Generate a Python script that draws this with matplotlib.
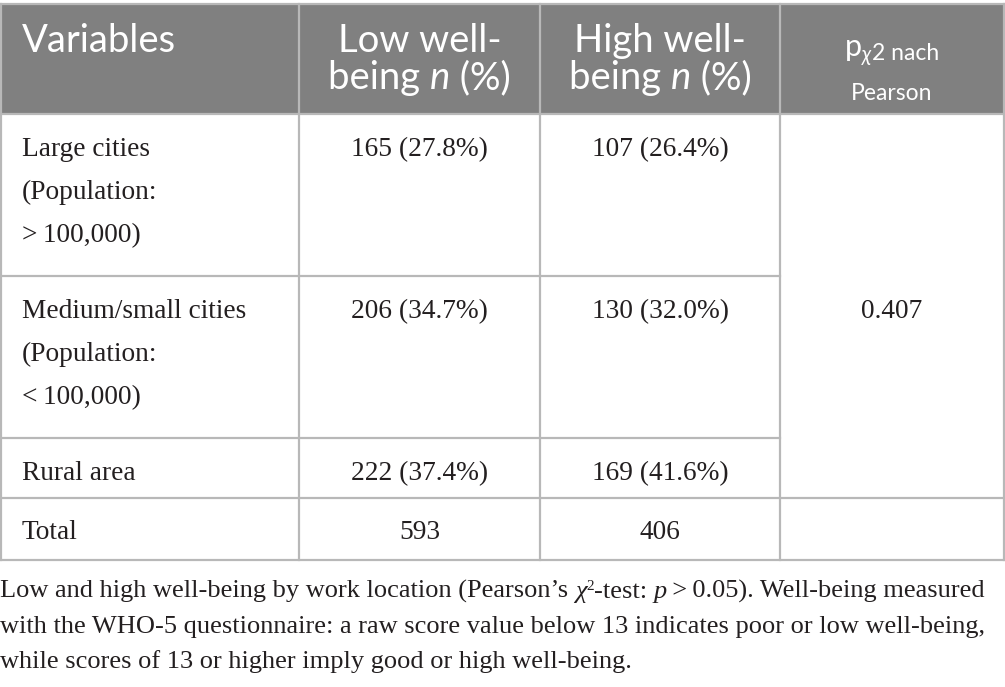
import matplotlib
matplotlib.use("Agg")
import matplotlib.pyplot as plt

# table content
header_var = "Variables"
header_low = ["Low well-", "being", "n", "(%)"]
header_high = ["High well-", "being", "n", "(%)"]
variables = [
    ["Large cities", "(Population:", ">\u2009100,000)"],
    ["Medium/small cities", "(Population:", "<\u2009100,000)"],
    ["Rural area"],
]
low_n = [165, 206, 222]
low_pct = [27.8, 34.7, 37.4]
high_n = [107, 130, 169]
high_pct = [26.4, 32.0, 41.6]
total_low = 593
total_high = 406
p_value = "0.407"
caption = [
    "Low and high well-being by work location (Pearson\u2019s ",
    "with the WHO-5 questionnaire: a raw score value below 13 indicates poor or low well-being,",
    "while scores of 13 or higher imply good or high well-being.",
]

# layout (pixels)
col_x = [1, 299, 540, 780, 1004]
row_y = [4, 114, 276, 438, 498, 560]
head_gray = "#808080"
line_gray = "#b8b8b8"
ink = "#231f20"
sans = ["Lato", "DejaVu Sans"]
serif = "Liberation Serif"
fs_head = 27.5
fs_body = 19.7
fs_cap = 19

fig = plt.figure(figsize=(10.05, 6.87), dpi=100)
ax = fig.add_axes([0, 0, 1, 1])
ax.set_xlim(0, 1005)
ax.set_ylim(687, 0)
ax.axis("off")
renderer = fig.canvas.get_renderer()


def runs(x, y, parts, ha="left"):
    # parts: list of (text, kwargs, dy) drawn side by side on one baseline
    objs = []
    widths = []
    for txt, kw, dy in parts:
        t = ax.text(0, y + dy, txt, va="baseline", ha="left", **kw)
        w = t.get_window_extent(renderer).width
        objs.append(t)
        widths.append(w)
    total = sum(widths)
    x0 = x - total / 2 if ha == "center" else x
    for t, w in zip(objs, widths):
        t.set_x(x0)
        x0 += w
    return x0


# header background
ax.fill_between([col_x[0], col_x[-1]], row_y[0], row_y[1], color=head_gray, lw=0)

# grid lines
lw = 1.6
for i, y in enumerate(row_y):
    if i in (2, 3):
        ax.plot([col_x[0], col_x[3]], [y, y], color=line_gray, lw=lw)
    else:
        ax.plot([col_x[0], col_x[-1]], [y, y], color=line_gray, lw=lw)
for x in col_x:
    ax.plot([x, x], [row_y[0], row_y[-1]], color=line_gray, lw=lw)

# header text
hk = dict(family=sans, fontsize=fs_head, color="white")
hki = dict(family=sans, fontsize=fs_head, color="white", style="italic")
ax.text(22, 52, header_var, va="baseline", ha="left", **hk)
for cx, h in [((col_x[1] + col_x[2]) / 2, header_low), ((col_x[2] + col_x[3]) / 2, header_high)]:
    ax.text(cx, 52, h[0], va="baseline", ha="center", **hk)
    runs(cx, 89, [(h[1] + " ", hk, 0), (h[2], hki, 0), (" " + h[3], hk, 0)], ha="center")
pcx = (col_x[3] + col_x[4]) / 2
sub = dict(family=sans, fontsize=16.5, color="white")
runs(pcx, 56, [("p", dict(family=sans, fontsize=22, color="white"), 0),
               ("\u03c7", dict(family=sans, fontsize=15, color="white", style="italic"), 5),
               ("2 nach", sub, 4)], ha="center")
ax.text(pcx, 100, "Pearson", va="baseline", ha="center", **sub)

# body rows
bk = dict(family=serif, fontsize=fs_body, color=ink)
line_h = 43
for i in range(3):
    y0 = row_y[i + 1] + 42
    for j, line in enumerate(variables[i]):
        ax.text(22, y0 + j * line_h, line, va="baseline", ha="left", **bk)
    ax.text((col_x[1] + col_x[2]) / 2, y0, f"{low_n[i]} ({low_pct[i]:.1f}%)", va="baseline", ha="center", **bk)
    ax.text((col_x[2] + col_x[3]) / 2, y0, f"{high_n[i]} ({high_pct[i]:.1f}%)", va="baseline", ha="center", **bk)
ax.text(pcx, 318, p_value, va="baseline", ha="center", **bk)
yt = row_y[4] + 41
ax.text(22, yt, "Total", va="baseline", ha="left", **bk)
ax.text((col_x[1] + col_x[2]) / 2, yt, str(total_low), va="baseline", ha="center", **bk)
ax.text((col_x[2] + col_x[3]) / 2, yt, str(total_high), va="baseline", ha="center", **bk)

# caption
ck = dict(family=serif, fontsize=fs_cap, color=ink)
cki = dict(family=serif, fontsize=fs_cap, color=ink, style="italic")
runs(0, 598, [(caption[0], ck, 0), ("\u03c7", cki, 0), ("2", dict(family=serif, fontsize=11, color=ink), -8),
              ("-test: ", ck, 0), ("p", cki, 0), ("\u2009>\u20090.05). Well-being measured", ck, 0)])
ax.text(0, 633, caption[1], va="baseline", ha="left", **ck)
ax.text(0, 668, caption[2], va="baseline", ha="left", **ck)

fig.savefig("out.png", dpi=100)
